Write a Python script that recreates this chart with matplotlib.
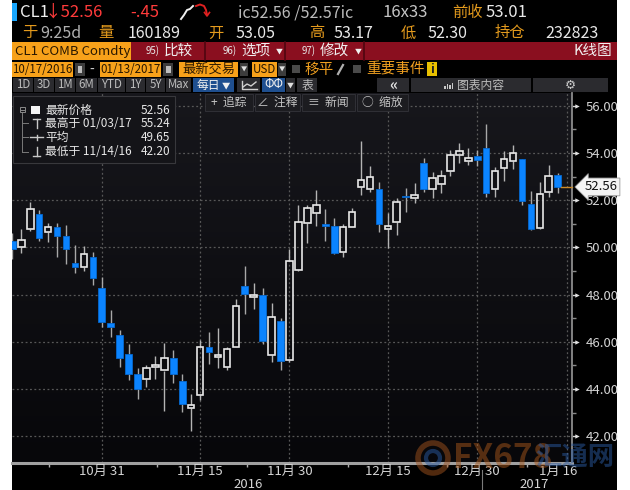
import matplotlib
matplotlib.use('Agg')
import matplotlib.pyplot as plt
from matplotlib.patches import Rectangle, Ellipse
from matplotlib.lines import Line2D
from matplotlib.colors import LinearSegmentedColormap
import numpy as np

plt.rcParams['font.family'] = ['Liberation Sans Narrow', 'Noto Sans CJK SC', 'DejaVu Sans']

# ---------------- data ----------------
opens = [50.25, 50.00, 50.77, 51.40, 50.64, 50.85, 50.48, 49.33, 49.18, 49.61,
         48.27, 46.78, 46.29, 45.47, 44.64, 44.41, 44.92, 44.78, 45.33, 44.34,
         43.18, 43.75, 45.77, 45.34, 44.92, 45.79, 48.38, 47.91, 47.98, 45.43,
         46.88, 45.23, 49.04, 51.02, 51.44, 50.95, 50.91, 49.82, 50.88, 52.57,
         52.47, 52.46, 50.77, 51.09, 52.17, 52.11, 53.59, 52.47, 52.67, 53.25,
         53.92, 53.67, 53.87, 54.20, 52.46, 53.38, 53.67, 53.75, 51.83, 50.81,
         52.36, 53.05]
highs = [50.60, 50.77, 51.94, 51.58, 51.05, 51.02, 50.95, 50.10, 50.06, 49.82,
         48.76, 47.35, 46.50, 45.89, 44.88, 45.02, 45.40, 45.94, 45.65, 44.64,
         43.79, 46.08, 46.43, 46.60, 45.77, 47.80, 49.21, 48.48, 48.27, 47.66,
         47.00, 49.92, 51.80, 51.80, 52.43, 51.61, 51.23, 50.98, 51.66, 54.52,
         53.45, 52.78, 51.45, 52.08, 52.50, 52.72, 53.78, 53.21, 53.28, 54.13,
         54.41, 54.22, 54.13, 55.24, 53.42, 54.10, 54.34, 53.75, 52.39, 52.78,
         53.49, 53.17]
lows = [49.50, 49.78, 50.71, 50.27, 50.24, 49.61, 49.30, 48.90, 49.00, 48.41,
        46.61, 46.19, 44.94, 44.38, 43.58, 44.10, 44.41, 43.07, 44.24, 43.04,
        42.20, 43.53, 45.06, 44.88, 44.81, 45.77, 47.18, 47.38, 45.89, 45.16,
        44.81, 45.16, 49.01, 50.20, 50.91, 50.28, 49.72, 49.61, 50.85, 52.22,
        52.36, 50.67, 49.96, 50.53, 51.51, 51.87, 52.36, 52.08, 52.29, 53.04,
        53.59, 53.49, 53.45, 52.12, 52.15, 52.83, 53.32, 51.80, 50.74, 50.77,
        52.12, 52.30]
closes = [49.92, 50.31, 51.61, 50.41, 50.85, 50.50, 49.93, 49.16, 49.71, 48.69,
          46.83, 46.64, 45.30, 44.64, 44.00, 44.89, 45.02, 45.30, 44.64, 43.36,
          43.32, 45.79, 45.55, 45.44, 45.69, 47.52, 48.03, 47.98, 46.03, 47.06,
          45.20, 49.42, 51.06, 51.68, 51.80, 50.90, 49.75, 50.85, 51.51, 52.86,
          53.00, 50.99, 50.92, 51.91, 52.12, 52.22, 52.46, 52.95, 53.03, 53.92,
          54.09, 53.80, 53.70, 52.32, 53.25, 53.73, 54.01, 51.97, 50.78, 52.25,
          53.03, 52.56]

date_tick_idx = [10, 21, 31, 42, 52, 62]
date_tick_labels = ['10月 31', '11月 15', '11月 30', '12月 15', '12月 30', '1月 16']
minor_tick_idx = [4.1, 16.2, 26.3, 37.5, 48.6, 57.6]
year_labels = ['2016', '2017']
year_pos = [26.4, 58.4]
year_break = 52.5
price_ticks = [42, 44, 46, 48, 50, 52, 54, 56]
price_minor = [43, 45, 47, 49, 51, 53, 55]
last_price = 52.56

# ---------------- figure helpers ----------------
W, H = 630, 490
fig = plt.figure(figsize=(6.3, 4.9), dpi=100, facecolor='white')


def fx(x):
    return x / W


def fy(y):
    return 1 - y / H


def rect(x0, y0, x1, y1, fc, ec='none', lw=0, z=1):
    fig.add_artist(Rectangle((fx(x0), fy(y1)), (x1 - x0) / W, (y1 - y0) / H,
                             transform=fig.transFigure, facecolor=fc,
                             edgecolor=ec, linewidth=lw, zorder=z))


def txt(x, y, s, color='#e6e6e6', size=9, ha='left', va='center', z=5, **kw):
    fig.text(fx(x), fy(y), s, color=color, fontsize=size, ha=ha, va=va,
             zorder=z, **kw)


def line(xs, ys, color, lw=1, z=5, **kw):
    fig.add_artist(Line2D([fx(v) for v in xs], [fy(v) for v in ys],
                          transform=fig.transFigure, color=color, lw=lw,
                          zorder=z, **kw))


GOLD = '#e39a1d'
ORANGE = '#f7a11a'
DARKTXT = '#2a1800'

# black terminal panel
rect(12, 0, 617, 490, '#000000', z=-5)

# ---------------- main chart ----------------
ax = fig.add_axes([fx(12), fy(463), 560 / W, 370 / H])
x_lo, x_hi = -0.04, 62.6
y_lo, y_hi = 40.86, 56.54
cmap = LinearSegmentedColormap.from_list('bg', ['#07070a', '#17171c'])
ax.imshow(np.linspace(0, 1, 256).reshape(-1, 1), extent=[x_lo, x_hi, y_lo, y_hi],
          aspect='auto', cmap=cmap, origin='lower', zorder=0)
ax.set_xlim(x_lo, x_hi)
ax.set_ylim(y_lo, y_hi)

for sp in ['top', 'left']:
    ax.spines[sp].set_visible(False)
ax.spines['right'].set_color('#8c8c8c')
ax.spines['right'].set_linewidth(1.3)
ax.spines['bottom'].set_color('#a0a0a0')
ax.spines['bottom'].set_linewidth(2.2)

grid_style = dict(color='#585858', linestyle=(0, (1.5, 2.0)), linewidth=0.9, zorder=1)
for p in price_ticks:
    ax.axhline(p, **grid_style)
for i in date_tick_idx:
    ax.axvline(i, **grid_style)

# candles
bw = 0.74
for i, (o, h, l, c) in enumerate(zip(opens, highs, lows, closes)):
    lo_b, hi_b = min(o, c), max(o, c)
    hgt = max(hi_b - lo_b, 0.07)
    if c >= o:
        ax.plot([i, i], [hi_b, h], color='#b4b4b4', lw=1.0, zorder=2, solid_capstyle='butt')
        ax.plot([i, i], [l, lo_b], color='#b4b4b4', lw=1.0, zorder=2, solid_capstyle='butt')
        ax.add_patch(Rectangle((i - bw / 2, lo_b), bw, hgt, facecolor='none',
                               edgecolor='#e8e8e8', linewidth=1.2, zorder=3))
    else:
        ax.plot([i, i], [l, h], color='#a8a8a8', lw=1.0, zorder=2, solid_capstyle='butt')
        ax.add_patch(Rectangle((i - bw / 2, lo_b), bw, hgt, facecolor='#0b84ff',
                               edgecolor='#0669d0', linewidth=0.6, zorder=3))

# y axis on right
ax.yaxis.tick_right()
ax.set_yticks(price_ticks)
ax.set_yticklabels([f'{v:.2f}' for v in price_ticks])
ax.set_yticks(price_minor, minor=True)
ax.tick_params(axis='y', which='major', length=3, width=1, color='#d8d8d8',
               labelcolor='#d4d4d4', labelsize=9.5, pad=7)
ax.tick_params(axis='y', which='minor', length=3, width=1, color='#8a8a8a')
ax.scatter([1.0 + 5 / 560] * len(price_ticks), price_ticks, marker='>', s=10,
           color='#e0e0e0', transform=ax.get_yaxis_transform(), clip_on=False,
           zorder=6, linewidths=0)

# x axis
ax.set_xticks([])
ax.set_xticks(minor_tick_idx, minor=True)
ax.tick_params(axis='x', which='minor', length=3, width=1, color='#b0b0b0')
xt = ax.get_xaxis_transform()
for i, lab in zip(date_tick_idx, date_tick_labels):
    xpos = min(i, 61.1)
    ax.text(xpos, -0.0216, lab, transform=xt, ha='center', va='center',
            color='#d4d4d4', fontsize=9.5, clip_on=False)
for p, lab in zip(year_pos, year_labels):
    ax.text(p, -0.057, lab, transform=xt, ha='center', va='center',
            color='#d4d4d4', fontsize=9.5, clip_on=False)
ax.plot([year_break, year_break], [-0.02, -0.08], transform=xt, color='#7a7a7a',
        lw=0.8, clip_on=False)

# last price line and tag
ax.plot([len(closes) - 1 + 0.4, x_hi], [last_price, last_price], color='#c98a2a',
        lw=1.0, zorder=4, clip_on=False)
ax.annotate(f'{last_price:.2f}', xy=(1.0, last_price), xycoords=ax.get_yaxis_transform(),
            xytext=(9, 0), textcoords='offset points', ha='left', va='center',
            color='#111111', fontsize=9.5, annotation_clip=False,
            bbox=dict(boxstyle='larrow,pad=0.18', fc='#f4f4f4', ec='#9a9a9a', lw=0.6),
            zorder=7)

# ---------------- header ----------------
# row 1
rect(12, 3, 17, 21, '#19a7ff', z=2)
txt(20, 12.5, 'CL1', '#f0f0f0', 12)
txt(45, 12.5, '↓52.56', '#ff3b3b', 12)
txt(130, 12.5, '-.45', '#ff3b3b', 12)
line([181, 184, 187, 190, 193], [19, 15, 10, 9, 6], '#f0f0f0', lw=1.4)
line([196, 200, 204, 206, 207], [6, 4.5, 6, 10, 15], '#e02020', lw=1.4)
line([204.5, 207, 209.5], [12.5, 16, 12.5], '#e02020', lw=1.2)
txt(238, 12.5, 'ic52.56 /52.57ic', '#bcbcbc', 11.5)
txt(383, 12.5, '16x33', '#c4c4c4', 12)
txt(452, 12.5, '前收', GOLD, 11)
txt(486, 12.5, '53.01', '#e8e8e8', 12)

# row 2
txt(22, 33, '于', GOLD, 11)
txt(40, 33, '9:25d', '#b0b0b0', 11.5)
txt(98, 33, '量', GOLD, 11)
txt(128, 33, '160189', '#e8e8e8', 11.5)
txt(208, 33, '开', GOLD, 11)
txt(235, 33, '53.05', '#e8e8e8', 11.5)
txt(309, 33, '高', GOLD, 11)
txt(334, 33, '53.17', '#e8e8e8', 11.5)
txt(401, 33, '低', GOLD, 11)
txt(427, 33, '52.30', '#e8e8e8', 11.5)
txt(495, 33, '持仓', GOLD, 11)
txt(545, 33, '232823', '#e8e8e8', 11.5)

# row 3
rect(12, 42, 131, 60, ORANGE, z=2)
txt(15, 51, 'CL1 COMB Comdty', DARKTXT, 9.5)
rect(131, 42, 617, 60, '#8a0f1f', z=2)
for xs in [205, 285, 364]:
    line([xs, xs], [42, 60], '#4e0610', lw=1.2, z=3)
txt(146, 51, '95)', '#e8e8e8', 7)
txt(164, 51, '比较', '#f0f0f0', 10.5)
txt(223, 51, '96)', '#e8e8e8', 7)
txt(241, 51, '选项', '#f0f0f0', 10.5)
txt(276, 51.5, '▼', '#f0f0f0', 5)
txt(302, 51, '97)', '#e8e8e8', 7)
txt(320, 51, '修改', '#f0f0f0', 10.5)
txt(355, 51.5, '▼', '#f0f0f0', 5)
txt(612, 51, 'K线图', '#f0f0f0', 10.5, ha='right')

# row 4
rect(12, 62, 73, 77, ORANGE, z=2)
txt(42.5, 69.5, '10/17/2016', DARKTXT, 8.3, ha='center')
rect(75, 63, 85, 76, '#3c3c3c', z=2)
rect(77.5, 66, 82.5, 73, '#bdbdbd', z=3)
txt(92, 69.5, '-', '#d0d0d0', 10, ha='center')
rect(100, 62, 161, 77, ORANGE, z=2)
txt(130.5, 69.5, '01/13/2017', DARKTXT, 8.3, ha='center')
rect(163, 63, 173, 76, '#3c3c3c', z=2)
rect(165.5, 66, 170.5, 73, '#bdbdbd', z=3)
rect(179, 62, 238, 77, ORANGE, z=2)
txt(208.5, 69.5, '最新交易', DARKTXT, 9.5, ha='center')
rect(240, 63, 248, 76, '#3c3c3c', z=2)
txt(244, 70, '▼', '#e0e0e0', 4.5, ha='center')
rect(252, 62, 277, 77, ORANGE, z=2)
txt(264.5, 69.5, 'USD', DARKTXT, 8.3, ha='center')
rect(278, 63, 286, 76, '#3c3c3c', z=2)
txt(282, 70, '▼', '#e0e0e0', 4.5, ha='center')
rect(292, 65, 300, 73, '#4a4a4a', z=2)
txt(304, 69.5, '移平', '#f0a020', 10.5)
line([338, 343], [74, 65], '#b0b0b0', lw=1.6)
rect(353, 65, 361, 73, '#4a4a4a', z=2)
txt(366, 69.5, '重要事件', '#f0a020', 10.5)
rect(427, 62, 437, 76, '#e8c000', z=2)
txt(432, 69.5, 'i', '#202020', 9, ha='center', weight='bold')

# row 5 buttons
buttons = [('1D', 13, 33), ('3D', 34, 54), ('1M', 55, 75), ('6M', 76, 97),
           ('YTD', 98, 125), ('1Y', 126, 145), ('5Y', 146, 165), ('Max', 166, 191)]
for lab, a, b in buttons:
    rect(a, 78, b, 92, '#2b2b2f', z=2)
    txt((a + b) / 2, 85, lab, '#bcbcbc', 8.3, ha='center')
rect(193, 78, 234, 92, '#1f4f8f', z=2)
txt(208, 85, '每日', '#f0f0f0', 8.5, ha='center')
txt(226, 85.5, '▼', '#f0f0f0', 6, ha='center')
rect(237, 78, 260, 92, '#2b2b2f', z=2)
line([242, 242, 257], [81, 89, 89], '#d0d0d0', lw=1)
line([243, 247, 251, 256], [87, 84, 86, 82], '#d0d0d0', lw=1)
rect(262, 78, 285, 92, '#1f4f8f', z=2)
txt(273.5, 85, 'ΦΦ', '#f0f0f0', 8.5, ha='center')
rect(286, 78, 295, 92, '#2b2b2f', z=2)
txt(290.5, 85.5, '▼', '#e0e0e0', 5, ha='center')
rect(297, 78, 317, 92, '#2b2b2f', z=2)
txt(307, 85, '表', '#bcbcbc', 8.5, ha='center')
rect(377, 78, 409, 92, '#2b2b2f', z=2)
txt(393, 85, '«', '#e0e0e0', 11, ha='center', weight='bold')
rect(411, 78, 531, 92, '#2b2b2f', z=2)
for k, hh in enumerate([3, 5, 4, 6]):
    rect(444 + k * 2.5, 89 - hh, 445.5 + k * 2.5, 89, '#c8c8c8', z=3)
txt(457, 85, '图表内容', '#bcbcbc', 8.5)
rect(533, 78, 608, 92, '#2b2b2f', z=2)
txt(570, 85, '⚙', '#c8c8c8', 9, ha='center')

# inner chart toolbar
tools = [('+  追踪', 205, 253), ('∠  注释', 255, 300), ('≡  新闻', 302, 355), ('○  缩放', 357, 408)]
for lab, a, b in tools:
    rect(a, 94, b, 111, '#1c1c20', ec='#34343a', lw=0.6, z=2)
    txt((a + b) / 2, 102.5, lab, '#c4c4c4', 8.5, ha='center')

# legend box
rect(13, 96.5, 175, 163, '#141418', ec='#38383c', lw=0.8, z=2)
rect(19.5, 107.5, 24.5, 112.5, 'none', ec='#8a8a8a', lw=0.7, z=3)
line([20.5, 23.5], [110, 110], '#8a8a8a', lw=0.7)
rect(31, 106, 40, 114, '#f4f4f4', z=3)
line([22, 22], [113, 151.5], '#7a7a7a', lw=0.7)
for yy in [123.5, 137.5, 151.5]:
    line([22, 28], [yy, yy], '#7a7a7a', lw=0.7)
line([33, 40.5], [119, 119], '#c8c8c8', lw=1)
line([36.7, 36.7], [119, 128], '#c8c8c8', lw=1)
line([30, 43], [137.5, 137.5], '#c8c8c8', lw=1)
line([36.7, 36.7], [135, 140], '#c8c8c8', lw=1)
line([33, 40.5], [156, 156], '#c8c8c8', lw=1)
line([36.7, 36.7], [147, 156], '#c8c8c8', lw=1)
legend_rows = [('最新价格', '52.56', 110), ('最高于 01/03/17', '55.24', 123.5),
               ('平均', '49.65', 137.5), ('最低于 11/14/16', '42.20', 151.5)]
for name, val, yy in legend_rows:
    txt(45, yy, name, '#e8e8e8', 8.5)
    txt(170, yy, val, '#e8e8e8', 8.5, ha='right')

# watermark
fig.add_artist(Ellipse((fx(433), fy(458)), 30 / W, 30 / H, transform=fig.transFigure,
                       facecolor='none', edgecolor='#a0521d', lw=4, alpha=0.5, zorder=9))
fig.add_artist(Ellipse((fx(433), fy(458)), 14 / W, 14 / H, transform=fig.transFigure,
                       facecolor='none', edgecolor='#2a5aa0', lw=3, alpha=0.5, zorder=9))
txt(453, 458, 'FX678', '#a5561a', 24, weight='bold', alpha=0.5, z=9)
txt(535, 458, '汇通网', '#2a5aa0', 19, weight='bold', alpha=0.5, z=9)

fig.savefig('out.png', dpi=100, facecolor='white')
